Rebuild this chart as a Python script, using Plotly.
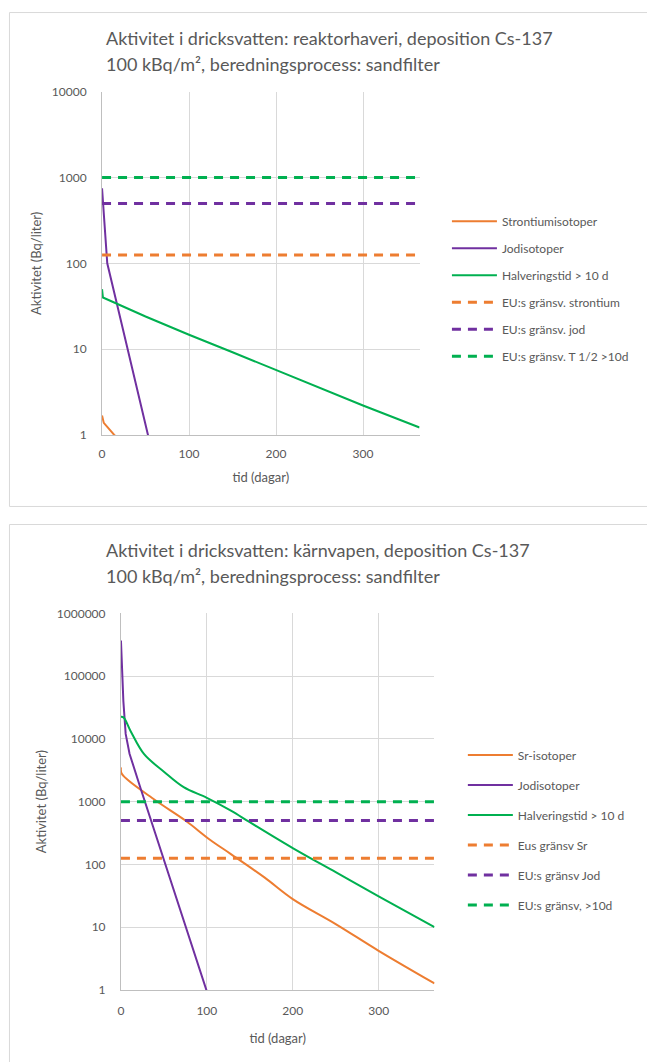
import plotly.graph_objects as go

W, H = 647, 1062

# ---------------- data: top chart (reaktorhaveri) ----------------
top_sr_x = [0, 1, 2, 14, 30]
top_sr_y = [1.68, 1.5, 1.38, 1.0, 0.72]
top_i_x = [0, 1, 2, 4, 6, 17, 53, 65]
top_i_y = [750, 520, 410, 200, 100, 34, 1.0, 0.3]
top_h_x = [0, 1, 50, 79, 100, 150, 200, 250, 300, 365]
top_h_y = [50, 40, 24, 18, 14.7, 9.2, 5.7, 3.6, 2.2, 1.22]
top_lim_sr = 125
top_lim_i = 500
top_lim_h = 1000
top_names = ["Strontiumisotoper", "Jodisotoper", "Halveringstid > 10 d",
             "EU:s gränsv. strontium", "EU:s gränsv. jod", "EU:s gränsv. T 1/2 >10d"]

# ---------------- data: bottom chart (kärnvapen) ----------------
bot_sr_x = [0, 1, 38, 75, 104, 128, 167, 200, 250, 300, 365]
bot_sr_y = [3500, 2770, 1100, 500, 245, 146, 62, 28, 11.2, 4.2, 1.27]
bot_i_x = [0, 1, 2.8, 5.5, 10, 23, 99.5, 110]
bot_i_y = [370000, 120000, 40000, 12000, 5800, 1600, 1.0, 0.36]
bot_h_x = [0, 3, 11, 27, 50, 73, 100, 128, 150, 200, 250, 300, 365]
bot_h_y = [22500, 22000, 13500, 5700, 3000, 1700, 1150, 720, 470, 182, 75, 31, 10]
bot_lim_sr = 125
bot_lim_i = 500
bot_lim_h = 1000
bot_names = ["Sr-isotoper", "Jodisotoper", "Halveringstid > 10 d",
             "Eus gränsv Sr", "EU:s gränsv Jod", "EU:s gränsv, >10d"]

x_range = [0, 365]
x_ticks = [0, 100, 200, 300]
top_yticks = [1, 10, 100, 1000, 10000]
bot_yticks = [1, 10, 100, 1000, 10000, 100000, 1000000]

titles_top = ["Aktivitet i dricksvatten: reaktorhaveri, deposition Cs-137",
              "100 kBq/m², beredningsprocess: sandfilter"]
titles_bot = ["Aktivitet i dricksvatten: kärnvapen, deposition Cs-137",
              "100 kBq/m², beredningsprocess: sandfilter"]
x_title = "tid (dagar)"
y_title = "Aktivitet (Bq/liter)"

ORANGE = "#ED7D31"
PURPLE = "#7030A0"
GREEN = "#00B050"
TEXT = "#595959"
GRID = "#D9D9D9"
FONT = "Lato"

def px_x(p):
    return p / W

def px_y(p):
    return 1 - p / H

fig = go.Figure()

def add_set(sr_x, sr_y, i_x, i_y, h_x, h_y, lims, names, xa, ya, leg, smooth):
    series = [(sr_x, sr_y, ORANGE), (i_x, i_y, PURPLE), (h_x, h_y, GREEN)]
    for k, (xs, ys, c) in enumerate(series):
        shape = "spline" if smooth[k] else "linear"
        fig.add_trace(go.Scatter(x=xs, y=ys, mode="lines", name=names[k],
                                 line=dict(color=c, width=2, shape=shape, smoothing=1.0),
                                 xaxis=xa, yaxis=ya, legend=leg,
                                 legendgroup=leg + str(k)))
    for k, (lv, c) in enumerate(zip(lims, [ORANGE, PURPLE, GREEN])):
        fig.add_trace(go.Scatter(x=x_range, y=[lv, lv], mode="lines", name=names[3 + k],
                                 line=dict(color=c, width=3, dash="9px,7px"),
                                 xaxis=xa, yaxis=ya, legend=leg,
                                 legendgroup=leg + str(3 + k)))

add_set(top_sr_x, top_sr_y, top_i_x, top_i_y, top_h_x, top_h_y,
        [top_lim_sr, top_lim_i, top_lim_h], top_names, "x", "y", "legend",
        [False, False, False])
add_set(bot_sr_x, bot_sr_y, bot_i_x, bot_i_y, bot_h_x, bot_h_y,
        [bot_lim_sr, bot_lim_i, bot_lim_h], bot_names, "x2", "y2", "legend2",
        [True, False, True])

axis_common = dict(showgrid=True, gridcolor=GRID, gridwidth=1, zeroline=False,
                   showline=True, linecolor="#BFBFBF", linewidth=1, ticks="",
                   tickfont=dict(family=FONT, size=12, color=TEXT),
                   title_font=dict(family=FONT, size=13, color=TEXT))

xaxis = dict(axis_common, range=x_range, tickvals=x_ticks, ticklabelstandoff=8)
yaxis_base = dict(axis_common, type="log", tickformat="d", ticklabelstandoff=12,
                  title=dict(text=y_title, standoff=7), mirror=False)

fig.update_layout(
    width=W, height=H,
    margin=dict(l=0, r=0, t=0, b=0),
    paper_bgcolor="white", plot_bgcolor="white",
    font=dict(family=FONT, color=TEXT),
    xaxis=dict(xaxis, domain=[px_x(99.5), px_x(418.5)], anchor="y",
               title=dict(text=x_title, standoff=12)),
    yaxis=dict(yaxis_base, domain=[px_y(433), px_y(85)], anchor="x",
               range=[0, 4], tickvals=top_yticks),
    xaxis2=dict(xaxis, domain=[px_x(118.5), px_x(433.5)], anchor="y2",
                ticklabelstandoff=10, title=dict(text=x_title, standoff=16)),
    yaxis2=dict(yaxis_base, domain=[px_y(996), px_y(614)], anchor="x2",
                range=[0, 6], tickvals=bot_yticks),
    legend=dict(x=px_x(446), y=px_y(201.5), xanchor="left", yanchor="top",
                tracegroupgap=8, itemwidth=45,
                font=dict(family=FONT, size=12, color=TEXT),
                bgcolor="rgba(0,0,0,0)"),
    legend2=dict(x=px_x(462), y=px_y(743), xanchor="left", yanchor="top",
                 tracegroupgap=11, itemwidth=45,
                 font=dict(family=FONT, size=12, color=TEXT),
                 bgcolor="rgba(0,0,0,0)"),
    showlegend=True,
)

# chart-area borders
fig.add_shape(type="rect", xref="paper", yref="paper",
              x0=px_x(6.5), x1=1.05, y0=px_y(505.6), y1=px_y(4.6),
              line=dict(color=GRID, width=1), fillcolor="rgba(0,0,0,0)", layer="below")
fig.add_shape(type="rect", xref="paper", yref="paper",
              x0=px_x(6.5), x1=1.05, y0=-0.05, y1=px_y(523.9),
              line=dict(color=GRID, width=1), fillcolor="rgba(0,0,0,0)", layer="below")

# chart titles
for lines, ys in ((titles_top, (30.0, 56.4)), (titles_bot, (549.8, 576.2))):
    for txt, yy in zip(lines, ys):
        fig.add_annotation(text=txt, xref="paper", yref="paper",
                           x=px_x(101), y=px_y(yy), xanchor="left", yanchor="middle",
                           showarrow=False,
                           font=dict(family=FONT, size=18, color=TEXT))

fig.write_html("out.html",
               config={"displayModeBar": False},
               post_script="document.body.style.margin='0';"
                           "document.body.style.overflow='hidden';")
